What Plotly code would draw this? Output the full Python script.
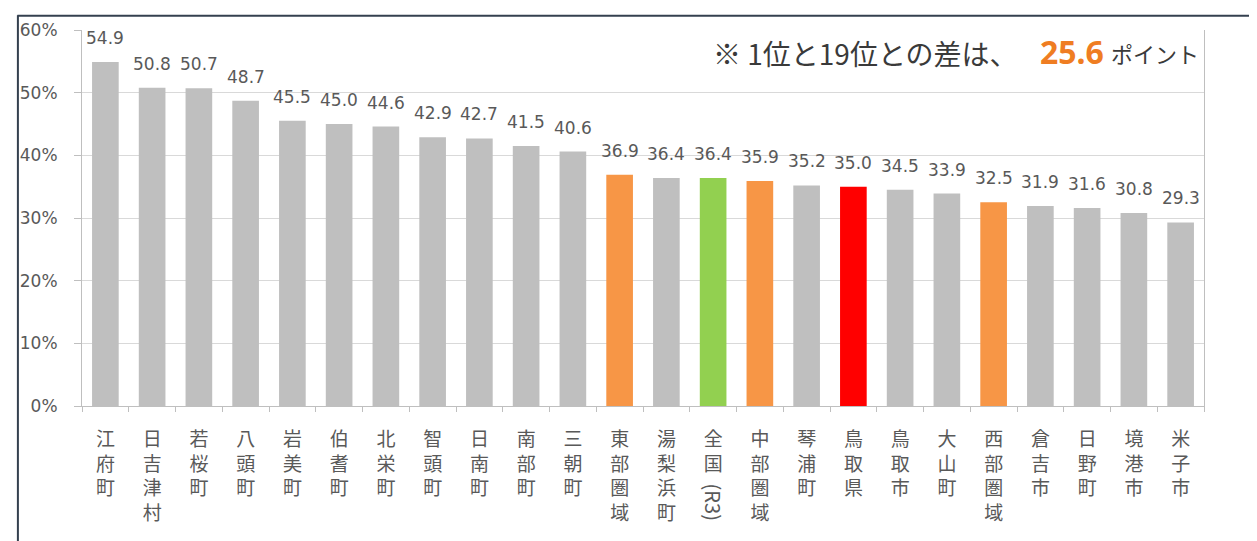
import plotly.graph_objects as go

# ---- data ----
categories = ["江府町", "日吉津村", "若桜町", "八頭町", "岩美町", "伯耆町", "北栄町", "智頭町",
              "日南町", "南部町", "三朝町", "東部圏域", "湯梨浜町", "全国(R3)", "中部圏域", "琴浦町",
              "鳥取県", "鳥取市", "大山町", "西部圏域", "倉吉市", "日野町", "境港市", "米子市"]
values = [54.9, 50.8, 50.7, 48.7, 45.5, 45.0, 44.6, 42.9,
          42.7, 41.5, 40.6, 36.9, 36.4, 36.4, 35.9, 35.2,
          35.0, 34.5, 33.9, 32.5, 31.9, 31.6, 30.8, 29.3]
region_names = ["東部圏域", "中部圏域", "西部圏域"]
national_name = "全国(R3)"
prefecture_name = "鳥取県"
y_ticks = [0, 10, 20, 30, 40, 50, 60]
y_tick_labels = [f"{v}%" for v in y_ticks]
first_place = "江府町"
last_place = "米子市"

# ---- styles ----
GRAY = "#bfbfbf"
ORANGE = "#f79646"
GREEN = "#92d050"
RED = "#ff0000"
TEXT = "#595959"


def bar_color(name):
    if name in region_names:
        return ORANGE
    if name == national_name:
        return GREEN
    if name == prefecture_name:
        return RED
    return GRAY


def vertical_label(name):
    if name == national_name:
        return "全<br>国"
    return "<br>".join(name)


colors = [bar_color(c) for c in categories]
tick_text = [vertical_label(c) for c in categories]

# page body has an 8px margin; the figure is sized so it fills the 1257x541 window
OFF = 8
W, H = 1257 - OFF, 541 - OFF
PX0, PX1, PY0, PY1 = 75 - OFF, 1204 - OFF, 25 - OFF, 406 - OFF


def px(xp):
    return (xp - OFF - PX0) / (PX1 - PX0)


def py(yp):
    return (PY1 - (yp - OFF)) / (PY1 - PY0)


fig = go.Figure()
fig.add_trace(go.Bar(x=categories, y=values, marker=dict(color=colors, line=dict(width=0)),
                     hoverinfo="x+y"))

annotations = []
for c, v in zip(categories, values):
    annotations.append(dict(x=c, y=v, text=f"{v:.1f}", showarrow=False, yanchor="bottom",
                            yshift=12, font=dict(family="DejaVu Sans", size=17, color=TEXT)))

# rotated "(R3)" part of the national label
annotations.append(dict(x=national_name, y=py(503), yref="paper", text="(R3)", textangle=90,
                        showarrow=False, yanchor="middle",
                        font=dict(family="Noto Sans CJK JP", size=20, color=TEXT)))

diff = values[categories.index(first_place)] - values[categories.index(last_place)]
annotations += [
    dict(x=px(708), y=py(48), xref="paper", yref="paper", xanchor="left", yanchor="middle",
         showarrow=False, text="※ 1位と19位との差は、",
         font=dict(family="Noto Sans CJK JP", size=28, color="#3a3a3a")),
    dict(x=px(1071), y=py(47), xref="paper", yref="paper", xanchor="center", yanchor="middle",
         showarrow=False, text=f"<b>{diff:.1f}</b>",
         font=dict(family="Noto Sans", size=32, color="#ef7d22")),
    dict(x=px(1201), y=py(48), xref="paper", yref="paper", xanchor="right", yanchor="middle",
         showarrow=False, text="ポイント",
         font=dict(family="Noto Sans CJK JP", size=22, color="#3a3a3a")),
]

shapes = [
    dict(type="line", xref="paper", yref="paper", x0=px(10), x1=px(1270), y0=py(10.5), y1=py(10.5),
         line=dict(color="#34404f", width=2)),
    dict(type="line", xref="paper", yref="paper", x0=px(10.5), x1=px(10.5), y0=py(10), y1=py(550),
         line=dict(color="#34404f", width=2)),
]

fig.update_layout(
    width=W, height=H,
    margin=dict(l=PX0, r=W - PX1, t=PY0, b=H - PY1, pad=0),
    paper_bgcolor="white", plot_bgcolor="white",
    bargap=0.43, showlegend=False,
    annotations=annotations, shapes=shapes,
    xaxis=dict(tickmode="array", tickvals=categories, ticktext=tick_text,
               tickfont=dict(family="Noto Sans CJK JP", size=19, color=TEXT),
               tickangle=0, ticks="outside", tickson="boundaries", ticklen=5,
               ticklabelstandoff=16,
               tickcolor="#bfbfbf", showline=True, linecolor="#bfbfbf", linewidth=1,
               showgrid=False, fixedrange=True),
    yaxis=dict(range=[0, 60], tickmode="array", tickvals=y_ticks, ticktext=y_tick_labels,
               tickfont=dict(family="DejaVu Sans", size=17, color=TEXT),
               ticks="outside", ticklen=7, tickcolor="#bfbfbf", ticklabelstandoff=13,
               showline=True, linecolor="#bfbfbf", linewidth=1, mirror=True,
               showgrid=True, gridcolor="#d9d9d9", gridwidth=1, zeroline=False,
               fixedrange=True),
)

fig.write_html("out.html")
